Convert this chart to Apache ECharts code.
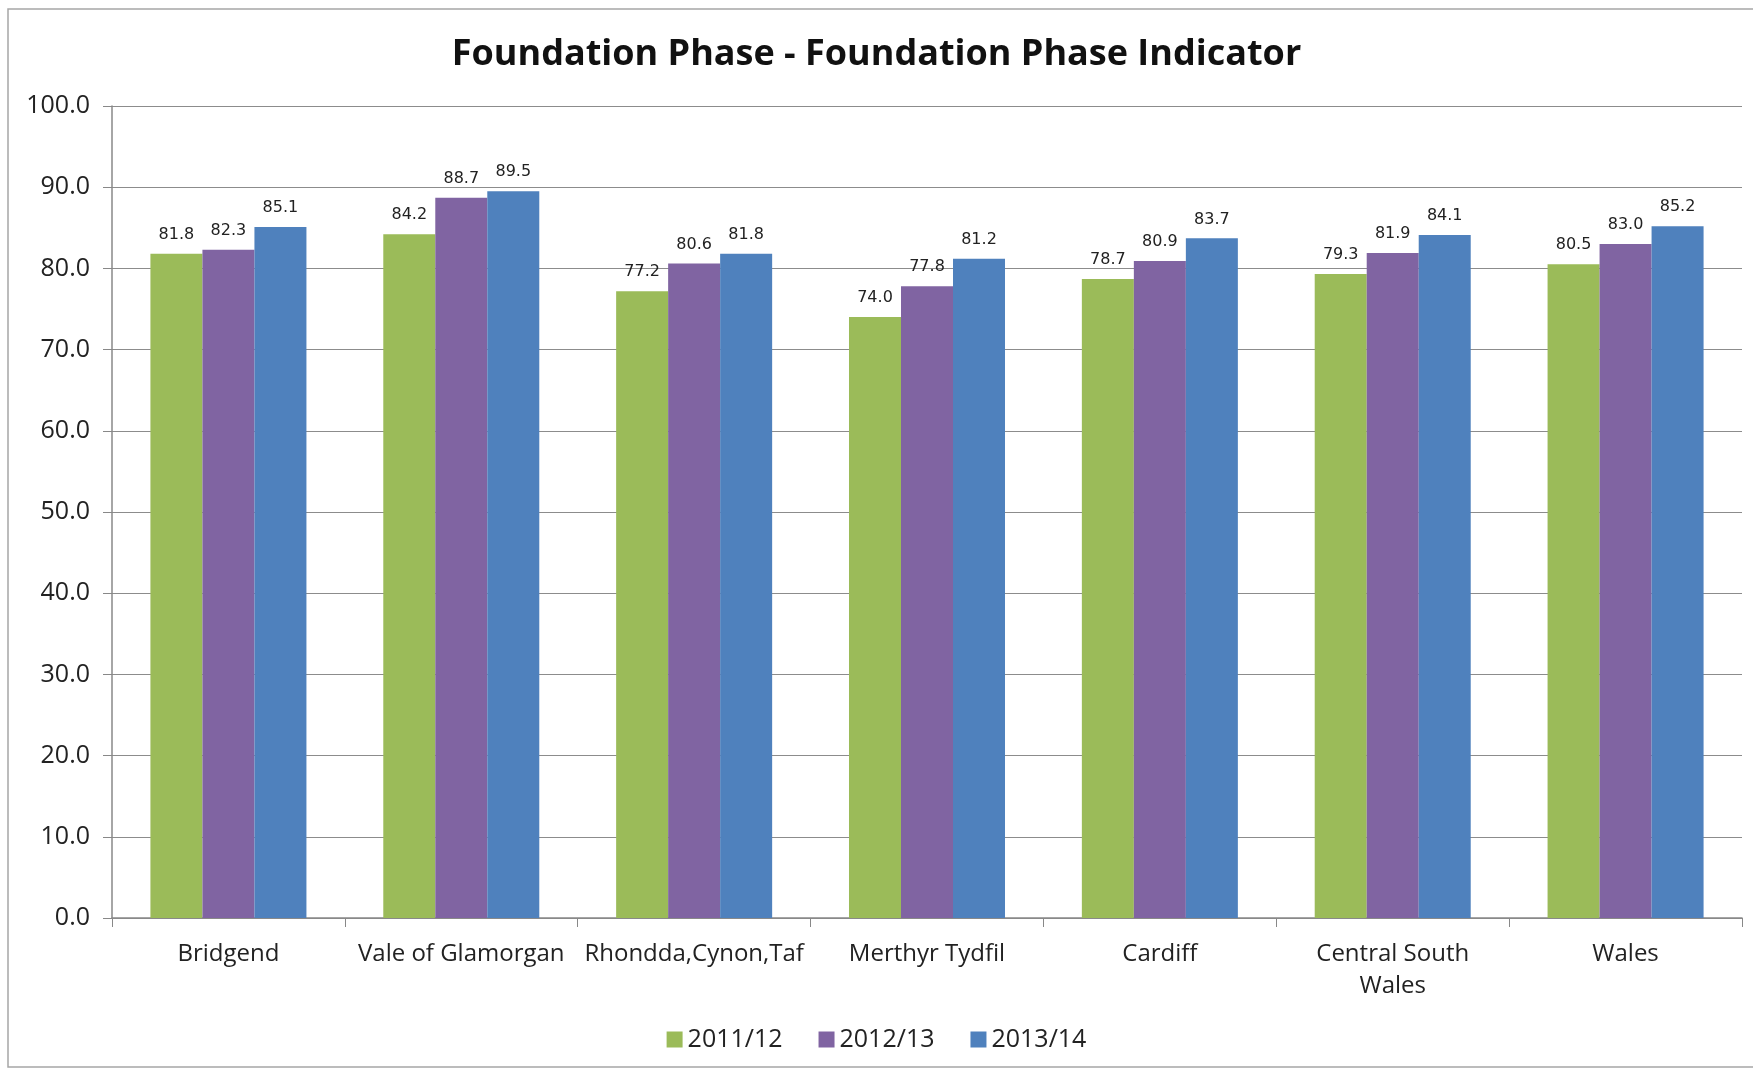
<!DOCTYPE html>
<html>
<head>
<meta charset="utf-8">
<title>Foundation Phase Indicator</title>
<script src="https://cdn.jsdelivr.net/npm/echarts@6/dist/echarts.min.js"></script>
<style>
    html, body { margin: 0; padding: 0; background: #fff; }
    #chart { width: 1753px; height: 1070px; }
</style>
</head>
<body>
<div id="chart"></div>
<script>
// ===== data =====
const areas = ['Bridgend', 'Vale of Glamorgan', 'Rhondda,Cynon,Taf', 'Merthyr Tydfil',
    'Cardiff', 'Central South\nWales', 'Wales'];
const years = ['2011/12', '2012/13', '2013/14'];
const fpi2011 = [81.8, 84.2, 77.2, 74.0, 78.7, 79.3, 80.5];
const fpi2012 = [82.3, 88.7, 80.6, 77.8, 80.9, 81.9, 83.0];
const fpi2013 = [85.1, 89.5, 81.8, 81.2, 83.7, 84.1, 85.2];
const yTicks = { min: 0, max: 100, interval: 10 };

const colors = ['#9BBB59', '#8064A2', '#4F81BD'];
const font = '"Open Sans", "Noto Sans", sans-serif';

const chart = echarts.init(document.getElementById('chart'));

function barSeries(name, values, color) {
    return {
        name: name,
        type: 'bar',
        data: values,
        barGap: '0%',
        barCategoryGap: '33%',
        itemStyle: { color: color },
        label: {
            show: true,
            position: 'top',
            distance: 11,
            fontFamily: '"DejaVu Sans", sans-serif',
            fontSize: 16,
            color: '#222',
            formatter: p => p.value.toFixed(1)
        }
    };
}

chart.setOption({
    animation: false,
    textStyle: { fontFamily: font },
    graphic: [{
        type: 'rect',
        shape: { x: 8, y: 9, width: 1800, height: 1058 },
        style: { fill: 'none', stroke: '#a6a6a6', lineWidth: 1.5 },
        silent: true
    }],
    title: {
        text: 'Foundation Phase - Foundation Phase Indicator',
        left: 'center',
        top: 32,
        textStyle: { fontFamily: font, fontSize: 36, fontWeight: 'bold', color: '#111' }
    },
    legend: {
        data: years,
        bottom: 13,
        left: 'center',
        icon: 'rect',
        itemWidth: 16,
        itemHeight: 16,
        itemGap: 36,
        textStyle: { fontFamily: font, fontSize: 25, color: '#222' }
    },
    grid: { left: 112, right: 11, top: 106, bottom: 152 },
    xAxis: {
        type: 'category',
        data: areas,
        axisLine: { lineStyle: { color: '#888', width: 1.5 } },
        axisTick: { show: true, length: 9, interval: 0, lineStyle: { color: '#888' } },
        axisLabel: {
            interval: 0,
            margin: 20,
            fontSize: 24,
            lineHeight: 32,
            color: '#222'
        }
    },
    yAxis: {
        type: 'value',
        min: yTicks.min,
        max: yTicks.max,
        interval: yTicks.interval,
        axisLine: { show: true, lineStyle: { color: '#888', width: 1.5 } },
        axisTick: { show: true, length: 9, lineStyle: { color: '#888' } },
        splitLine: { lineStyle: { color: '#8c8c8c', width: 1.2 } },
        axisLabel: {
            margin: 22,
            fontSize: 25,
            color: '#222',
            formatter: v => v.toFixed(1)
        }
    },
    series: [
        barSeries(years[0], fpi2011, colors[0]),
        barSeries(years[1], fpi2012, colors[1]),
        barSeries(years[2], fpi2013, colors[2])
    ]
});
</script>
</body>
</html>
